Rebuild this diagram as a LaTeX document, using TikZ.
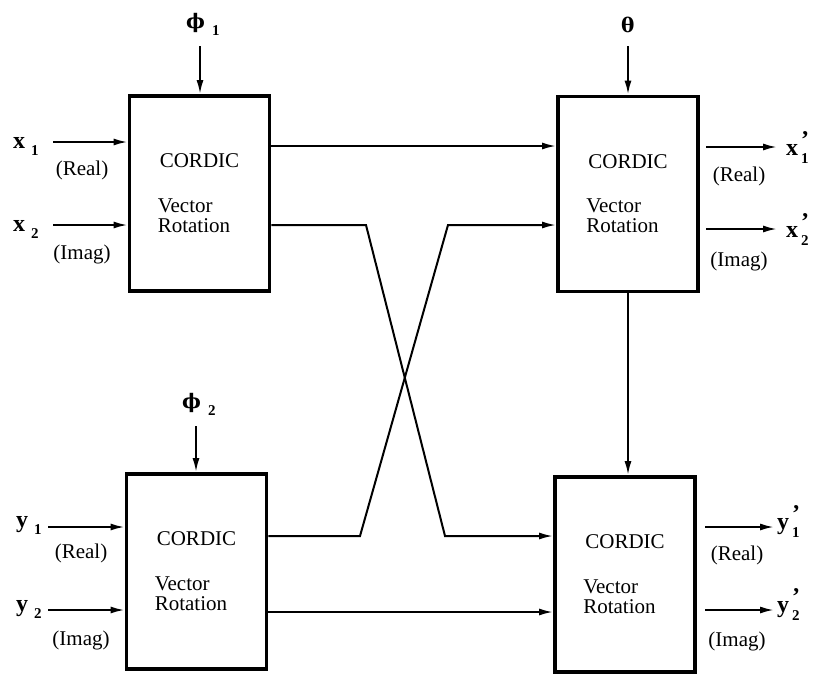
\documentclass[tikz,border=0pt]{standalone}
\usepackage{fontspec}
\setmainfont{Liberation Serif}
\newfontfamily\grk{DejaVu Serif}
\usetikzlibrary{arrows.meta,calc}

% symbol with a lowered index, and with a prime above the index
\newcommand\withsub[3][6pt]{#2\hspace{#1}\raisebox{-7pt}{\fontsize{15}{15}\selectfont\rmfamily\bfseries #3}}
\newcommand\withsubp[2]{#1\hspace{3pt}\rlap{\raisebox{8pt}{\fontsize{24}{24}\selectfont '}}\raisebox{-8pt}{\fontsize{15}{15}\selectfont #2}}

\tikzset{
  cordic/.style={draw, line width=3.8pt, minimum width=140pt, minimum height=195pt, inner sep=0pt},
  conn/.style={line width=2pt},
  arr/.style={conn, -{Latex[length=14pt,width=7pt]}},
  txt/.style={font=\fontsize{21}{20}\selectfont, inner sep=0pt},
  sig/.style={font=\fontsize{24}{24}\selectfont\bfseries, inner sep=0pt, anchor=base west},
  ang/.style={font=\fontsize{20}{20}\selectfont\bfseries\grk, inner sep=0pt, anchor=base west},
}

\begin{document}
\begin{tikzpicture}[x=1pt,y=-1pt]
\useasboundingbox (0,0) rectangle (813,673);

% the four rotation blocks
\node[cordic] (tl) at (199.5,193.5) {};
\node[cordic] (tr) at (628,194) {};
\node[cordic] (bl) at (196.5,571.5) {};
\node[cordic] (br) at (625,574.5) {};

\foreach \b in {tl,tr,bl,br}{
  \node[txt] (\b-name) at ($(\b.north)+(0,67)$) {CORDIC};
  \node[txt, align=left, anchor=west] (\b-op) at ($(\b.west)+(30,22)$) {Vector\\Rotation};
}

% row heights of the links between blocks
\coordinate (ra) at (0,146);
\coordinate (rb) at (0,225);
\coordinate (rc) at (0,536);
\coordinate (rd) at (0,612);

% inputs of the upper-left block
\coordinate (x1in) at (53,142);
\coordinate (x2in) at (53,225);
\draw[arr] (x1in) -- (x1in -| tl.west);
\draw[arr] (x2in) -- (x2in -| tl.west);
\node[sig] (x1lab) at (13,148) {\withsub{x}{1}};
\node[sig] (x2lab) at (13,231) {\withsub{x}{2}};
\node[txt] (x1re) at (82,170) {(Real)};
\node[txt] (x2im) at (82,254) {(Imag)};

% angle inputs
\node[ang] (phi1) at (186,28) {\withsub[7pt]{ϕ}{1}};
\coordinate (phi1a) at (200,46);
\draw[arr] (phi1a) -- (phi1a |- tl.north);

\node[ang] (phi2) at (182,408) {\withsub[7pt]{ϕ}{2}};
\coordinate (phi2a) at (196,426);
\draw[arr] (phi2a) -- (phi2a |- bl.north);

\node[ang] (theta) at (621,32) {θ};
\coordinate (thetaa) at (628,46);
\draw[arr] (thetaa) -- (thetaa |- tr.north);

% links between the blocks
\coordinate (ka) at (366,225);
\coordinate (kb) at (445,536);
\coordinate (kc) at (360,536);
\coordinate (kd) at (448,225);
\draw[arr] (tl.east |- ra) -- (tr.west |- ra);
\draw[arr] (tl.east |- rb) -- (ka) -- (kb) -- (br.west |- rc);
\draw[arr] (bl.east |- rc) -- (kc) -- (kd) -- (tr.west |- rb);
\draw[arr] (bl.east |- rd) -- (br.west |- rd);
\draw[arr] (tr.south) -- (tr.south |- br.north);

% outputs of the upper-right block
\coordinate (xo1) at (706,147);
\coordinate (xo1e) at (777,147);
\coordinate (xo2) at (706,229);
\coordinate (xo2e) at (777,229);
\draw[arr] (xo1) -- (xo1e);
\draw[arr] (xo2) -- (xo2e);
\node[sig] (xo1lab) at (786,155) {\withsubp{x}{1}};
\node[sig] (xo2lab) at (786,237) {\withsubp{x}{2}};
\node[txt] (xo1re) at (739,176) {(Real)};
\node[txt] (xo2im) at (739,261) {(Imag)};

% inputs of the lower-left block
\coordinate (y1in) at (48,527);
\coordinate (y2in) at (48,610);
\draw[arr] (y1in) -- (y1in -| bl.west);
\draw[arr] (y2in) -- (y2in -| bl.west);
\node[sig] (y1lab) at (16,527) {\withsub{y}{1}};
\node[sig] (y2lab) at (16,611) {\withsub{y}{2}};
\node[txt] (y1re) at (81,553) {(Real)};
\node[txt] (y2im) at (81,640) {(Imag)};

% outputs of the lower-right block
\coordinate (yo1) at (705,527);
\coordinate (yo1e) at (774,527);
\coordinate (yo2) at (705,610);
\coordinate (yo2e) at (774,610);
\draw[arr] (yo1) -- (yo1e);
\draw[arr] (yo2) -- (yo2e);
\node[sig] (yo1lab) at (777,529) {\withsubp{y}{1}};
\node[sig] (yo2lab) at (777,612) {\withsubp{y}{2}};
\node[txt] (yo1re) at (737,555) {(Real)};
\node[txt] (yo2im) at (737,641) {(Imag)};
\end{tikzpicture}
\end{document}
